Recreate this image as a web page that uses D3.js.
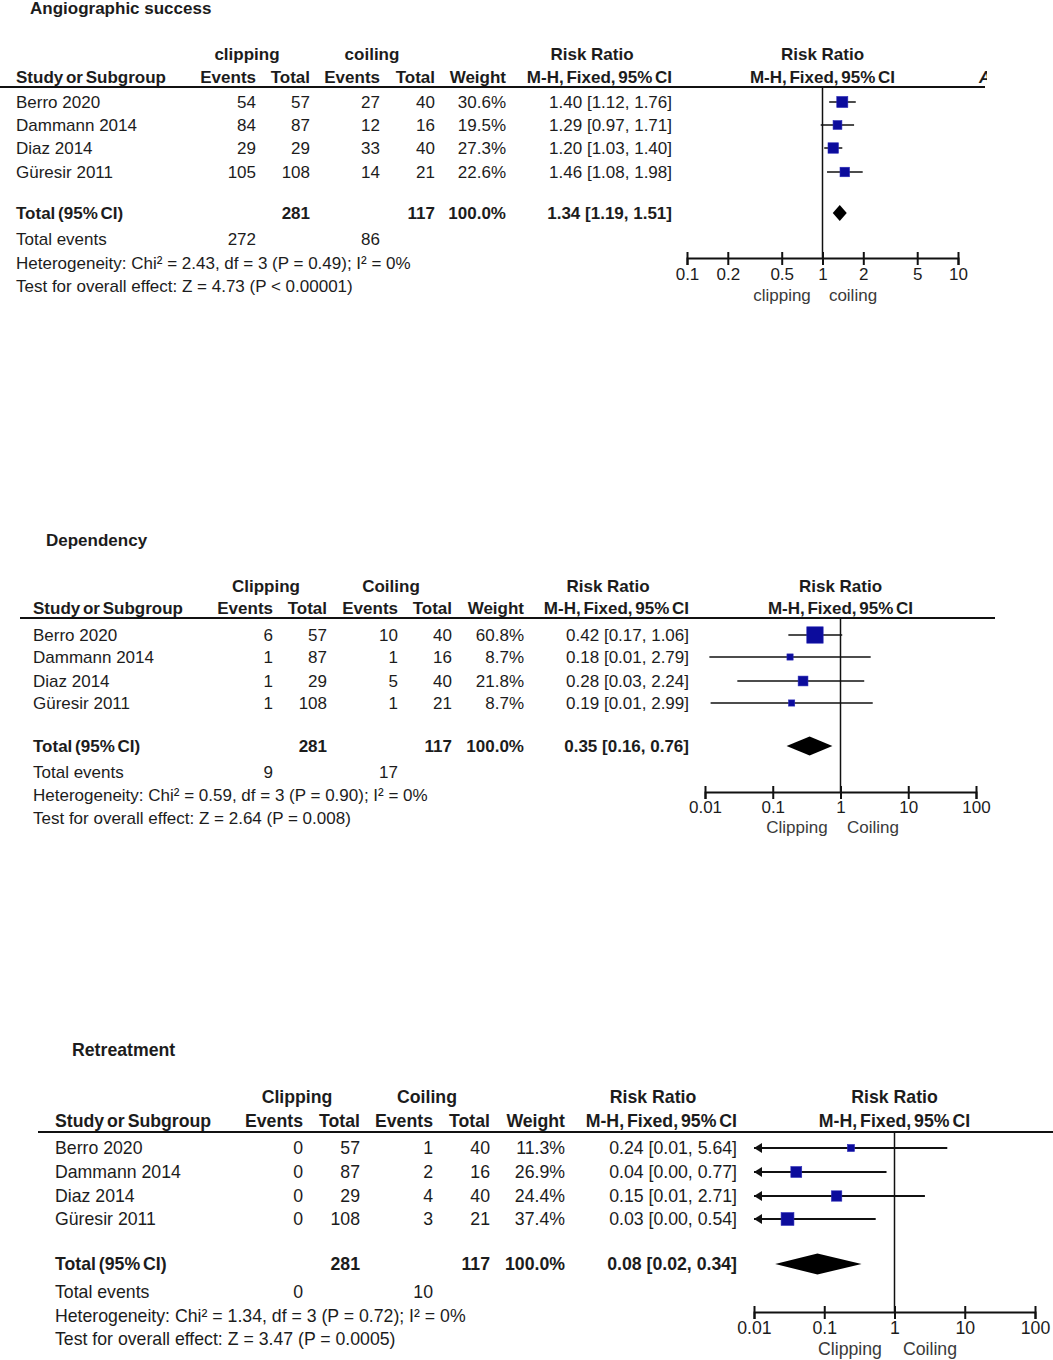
<!DOCTYPE html>
<html><head><meta charset="utf-8">
<script src="https://cdn.jsdelivr.net/npm/d3@7/dist/d3.min.js"></script>
<style>body{margin:0;background:#fff}svg{display:block}text{font-family:"Liberation Sans",Arial,sans-serif;fill:#1c1c1c}</style>
</head><body>
<script>
// ---------- DATA ----------
const studies = ["Berro 2020", "Dammann 2014", "Diaz 2014", "Güresir 2011"];

// Angiographic success
const angioTitle = "Angiographic success";
const angioGroups = ["clipping", "coiling"];
const angioClipEvents = [54, 84, 29, 105];
const angioClipTotal = [57, 87, 29, 108];
const angioCoilEvents = [27, 12, 33, 14];
const angioCoilTotal = [40, 16, 40, 21];
const angioWeight = [30.6, 19.5, 27.3, 22.6];
const angioRR = [1.40, 1.29, 1.20, 1.46];
const angioLo = [1.12, 0.97, 1.03, 1.08];
const angioHi = [1.76, 1.71, 1.40, 1.98];
const angioTotals = [281, 117];
const angioTotalEvents = [272, 86];
const angioPooled = [1.34, 1.19, 1.51];
const angioHet = "Heterogeneity: Chi² = 2.43, df = 3 (P = 0.49); I² = 0%";
const angioTest = "Test for overall effect: Z = 4.73 (P < 0.00001)";
const angioTicks = [0.1, 0.2, 0.5, 1, 2, 5, 10];
const angioTickLabels = ["0.1", "0.2", "0.5", "1", "2", "5", "10"];
const angioFavours = ["clipping", "coiling"];

// Dependency
const depTitle = "Dependency";
const depGroups = ["Clipping", "Coiling"];
const depClipEvents = [6, 1, 1, 1];
const depClipTotal = [57, 87, 29, 108];
const depCoilEvents = [10, 1, 5, 1];
const depCoilTotal = [40, 16, 40, 21];
const depWeight = [60.8, 8.7, 21.8, 8.7];
const depRR = [0.42, 0.18, 0.28, 0.19];
const depLo = [0.17, 0.0116, 0.03, 0.0121];
const depHi = [1.06, 2.79, 2.24, 2.99];
const depTotals = [281, 117];
const depTotalEvents = [9, 17];
const depPooled = [0.35, 0.16, 0.76];
const depHet = "Heterogeneity: Chi² = 0.59, df = 3 (P = 0.90); I² = 0%";
const depTest = "Test for overall effect: Z = 2.64 (P = 0.008)";
const depTicks = [0.01, 0.1, 1, 10, 100];
const depTickLabels = ["0.01", "0.1", "1", "10", "100"];
const depFavours = ["Clipping", "Coiling"];

// Retreatment
const retTitle = "Retreatment";
const retGroups = ["Clipping", "Coiling"];
const retClipEvents = [0, 0, 0, 0];
const retClipTotal = [57, 87, 29, 108];
const retCoilEvents = [1, 2, 4, 3];
const retCoilTotal = [40, 16, 40, 21];
const retWeight = [11.3, 26.9, 24.4, 37.4];
const retRR = [0.24, 0.04, 0.15, 0.03];
const retLo = [0.0098, 0.002, 0.008, 0.001];
const retHi = [5.64, 0.77, 2.71, 0.54];
const retTotals = [281, 117];
const retTotalEvents = [0, 10];
const retPooled = [0.08, 0.02, 0.34];
const retHet = "Heterogeneity: Chi² = 1.34, df = 3 (P = 0.72); I² = 0%";
const retTest = "Test for overall effect: Z = 3.47 (P = 0.0005)";
const retTicks = [0.01, 0.1, 1, 10, 100];
const retTickLabels = ["0.01", "0.1", "1", "10", "100"];
const retFavours = ["Clipping", "Coiling"];

// ---------- DRAW ----------
const W = 1053, H = 1360;
const svg = d3.select("body").append("svg").attr("width", W).attr("height", H);
const f2 = d3.format(".2f");
const f1 = d3.format(".1f");

function panel(d, L) {
  const g = svg.append("g");
  const fs = L.fs;
  const txt = (x, y, s, anchor, bold, ws) =>
    g.append("text").attr("x", x).attr("y", y).attr("dominant-baseline", "central")
      .attr("text-anchor", anchor || "start").attr("font-weight", bold ? "bold" : "normal")
      .attr("font-size", fs).attr("word-spacing", ws || 0).text(s);

  txt(L.titleX, L.titleY, d.title, "start", true);
  // header row 1
  txt(L.grp1, L.h1Y, d.groups[0], "middle", true);
  txt(L.grp2, L.h1Y, d.groups[1], "middle", true);
  txt(L.rrHead, L.h1Y, "Risk Ratio", "middle", true);
  const xPlot = d3.scaleLog().domain(L.domain).range([L.px0, L.px1]);
  const pc = (L.px0 + L.px1) / 2;
  txt(pc, L.h1Y, "Risk Ratio", "middle", true);
  // header row 2
  txt(L.studyX, L.h2Y, "Study or Subgroup", "start", true, -2);
  txt(L.c1, L.h2Y, "Events", "end", true);
  txt(L.c2, L.h2Y, "Total", "end", true);
  txt(L.c3, L.h2Y, "Events", "end", true);
  txt(L.c4, L.h2Y, "Total", "end", true);
  txt(L.c5, L.h2Y, "Weight", "end", true);
  txt(L.c6, L.h2Y, "M-H, Fixed, 95% CI", "end", true, -2);
  txt(pc, L.h2Y, "M-H, Fixed, 95% CI", "middle", true, -2);
  if (L.extra) {
    const cid = "clipA";
    svg.append("clipPath").attr("id", cid).append("rect").attr("x", 0).attr("y", 0).attr("width", 987).attr("height", 200);
    g.append("text").attr("x", 979).attr("y", L.h2Y).attr("dominant-baseline", "central")
      .attr("font-weight", "bold").attr("font-style", "italic").attr("font-size", fs)
      .attr("clip-path", "url(#" + cid + ")").text("A");
  }
  g.append("line").attr("x1", L.lineX0).attr("x2", L.lineX1).attr("y1", L.lineY).attr("y2", L.lineY)
    .attr("stroke", "#111").attr("stroke-width", 2);

  // rows
  d.studies.forEach((s, i) => {
    const y = L.rows[i];
    txt(L.studyX, y, s);
    txt(L.c1, y, d.ev1[i], "end");
    txt(L.c2, y, d.tot1[i], "end");
    txt(L.c3, y, d.ev2[i], "end");
    txt(L.c4, y, d.tot2[i], "end");
    txt(L.c5, y, f1(d.w[i]) + "%", "end");
    txt(L.c6, y, f2(d.rr[i]) + " [" + f2(d.lo[i]) + ", " + f2(d.hi[i]) + "]", "end");
  });
  txt(L.studyX, L.totY, "Total (95% CI)", "start", true, -2);
  txt(L.c2, L.totY, d.totals[0], "end", true);
  txt(L.c4, L.totY, d.totals[1], "end", true);
  txt(L.c5, L.totY, "100.0%", "end", true);
  txt(L.c6, L.totY, f2(d.pooled[0]) + " [" + f2(d.pooled[1]) + ", " + f2(d.pooled[2]) + "]", "end", true);
  txt(L.studyX, L.evY, "Total events");
  txt(L.c1, L.evY, d.totEv[0], "end");
  txt(L.c3, L.evY, d.totEv[1], "end");
  txt(L.studyX, L.hetY, d.het);
  txt(L.studyX, L.testY, d.test);

  // plot
  const x1 = xPlot(1);
  g.append("line").attr("x1", x1).attr("x2", x1).attr("y1", L.lineY).attr("y2", L.axisY)
    .attr("stroke", "#111").attr("stroke-width", 1.5);
  const sz = d3.scaleSqrt().domain([0, 100]).range([0, L.sq]);
  const dmin = L.domain[0], dmax = L.domain[1];
  d.studies.forEach((s, i) => {
    const y = L.rows[i];
    const lo = Math.max(d.lo[i], dmin), hi = Math.min(d.hi[i], dmax);
    g.append("line").attr("x1", xPlot(lo)).attr("x2", xPlot(hi)).attr("y1", y).attr("y2", y)
      .attr("stroke", "#111").attr("stroke-width", L.ciW);
    if (d.lo[i] < dmin) {
      const ax = xPlot(dmin);
      g.append("path").attr("d", `M${ax},${y} l8,-5 l0,10 z`).attr("fill", "#111");
    }
    const s2 = Math.max(5, sz(d.w[i]));
    g.append("rect").attr("x", xPlot(d.rr[i]) - s2 / 2).attr("y", y - s2 / 2)
      .attr("width", s2).attr("height", s2).attr("fill", "#0c0c9c").attr("stroke", "#2a2ab8").attr("stroke-width", 0.6);
  });
  const p = d.pooled, dh = L.dH / 2;
  g.append("path").attr("d", `M${xPlot(p[1])},${L.totY} L${xPlot(p[0])},${L.totY - dh} L${xPlot(p[2])},${L.totY} L${xPlot(p[0])},${L.totY + dh} Z`)
    .attr("fill", "#000");

  const ax = g.append("g").attr("transform", `translate(0,${L.axisY})`)
    .call(d3.axisBottom(xPlot).tickValues(d.ticks).tickFormat((v, i) => d.tickLabels[i]).tickSize(7).tickPadding(4));
  ax.select(".domain").attr("stroke", "#111").attr("stroke-width", 2);
  ax.selectAll(".tick line").attr("y1", -6).attr("stroke", "#111").attr("stroke-width", 2);
  ax.selectAll(".tick text").attr("font-size", fs).attr("font-family", "Liberation Sans, Arial, sans-serif")
    .attr("fill", "#1c1c1c").attr("y", null).attr("dy", null).attr("dominant-baseline", "central")
    .attr("transform", `translate(0,${L.tickLabY - L.axisY})`);
  g.append("text").attr("x", L.favL).attr("y", L.favY).attr("text-anchor", "middle").attr("dominant-baseline", "central")
    .attr("font-size", fs).style("fill", "#3a3a3a").text(d.favours[0]);
  g.append("text").attr("x", L.favR).attr("y", L.favY).attr("text-anchor", "middle").attr("dominant-baseline", "central")
    .attr("font-size", fs).style("fill", "#3a3a3a").text(d.favours[1]);
}

panel({
  title: angioTitle, groups: angioGroups, studies, ev1: angioClipEvents, tot1: angioClipTotal,
  ev2: angioCoilEvents, tot2: angioCoilTotal, w: angioWeight, rr: angioRR, lo: angioLo, hi: angioHi,
  totals: angioTotals, totEv: angioTotalEvents, pooled: angioPooled, het: angioHet, test: angioTest,
  ticks: angioTicks, tickLabels: angioTickLabels, favours: angioFavours
}, {
  fs: 17, titleX: 30, titleY: 8, h1Y: 54, h2Y: 77, lineY: 87, lineX0: 0, lineX1: 985, extra: true,
  studyX: 16, c1: 256, c2: 310, c3: 380, c4: 435, c5: 506, c6: 672, grp1: 247, grp2: 372, rrHead: 592,
  rows: [102, 125, 148, 172], totY: 213, evY: 239, hetY: 263, testY: 286,
  px0: 687, px1: 958, domain: [0.1, 10], axisY: 258, tickLabY: 274, favY: 295, favL: 782, favR: 853,
  sq: 20, ciW: 1.5, dH: 16
});

panel({
  title: depTitle, groups: depGroups, studies, ev1: depClipEvents, tot1: depClipTotal,
  ev2: depCoilEvents, tot2: depCoilTotal, w: depWeight, rr: depRR, lo: depLo, hi: depHi,
  totals: depTotals, totEv: depTotalEvents, pooled: depPooled, het: depHet, test: depTest,
  ticks: depTicks, tickLabels: depTickLabels, favours: depFavours
}, {
  fs: 17, titleX: 46, titleY: 540, h1Y: 586, h2Y: 608, lineY: 618, lineX0: 20, lineX1: 995,
  studyX: 33, c1: 273, c2: 327, c3: 398, c4: 452, c5: 524, c6: 689, grp1: 266, grp2: 391, rrHead: 608,
  rows: [635, 657, 681, 703], totY: 746, evY: 772, hetY: 795, testY: 818,
  px0: 705, px1: 976, domain: [0.01, 100], axisY: 792, tickLabY: 807, favY: 827, favL: 797, favR: 873,
  sq: 21, ciW: 1.6, dH: 19
});

panel({
  title: retTitle, groups: retGroups, studies, ev1: retClipEvents, tot1: retClipTotal,
  ev2: retCoilEvents, tot2: retCoilTotal, w: retWeight, rr: retRR, lo: retLo, hi: retHi,
  totals: retTotals, totEv: retTotalEvents, pooled: retPooled, het: retHet, test: retTest,
  ticks: retTicks, tickLabels: retTickLabels, favours: retFavours
}, {
  fs: 17.7, titleX: 72, titleY: 1050, h1Y: 1097, h2Y: 1121, lineY: 1132, lineX0: 38, lineX1: 1053,
  studyX: 55, c1: 303, c2: 360, c3: 433, c4: 490, c5: 565, c6: 737, grp1: 297, grp2: 427, rrHead: 653,
  rows: [1148, 1172, 1196, 1219], totY: 1264, evY: 1292, hetY: 1316, testY: 1339,
  px0: 754, px1: 1035, domain: [0.01, 100], axisY: 1312, tickLabY: 1328, favY: 1349, favL: 850, favR: 930,
  sq: 21, ciW: 2.2, dH: 21
});
</script>
</body></html>
